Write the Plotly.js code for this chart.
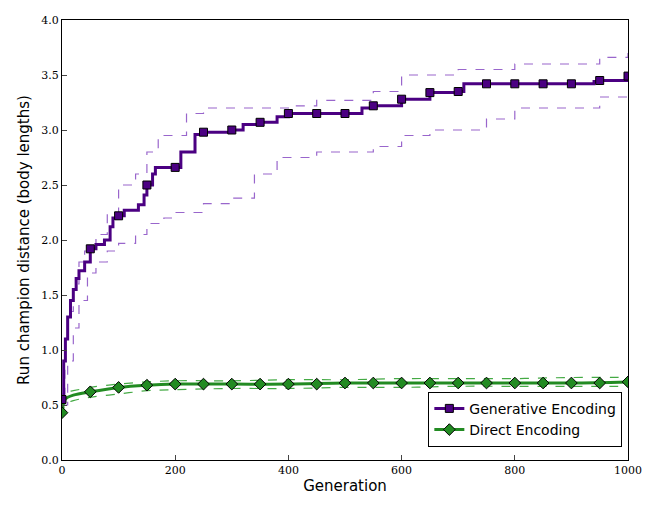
<!DOCTYPE html>
<html>
<head>
<script src="https://cdn.plot.ly/plotly-3.0.1.min.js"></script>
<style>body{margin:0}</style>
</head>
<body>
<div id="chart" style="width:657px;height:519px"></div>
<script>
// generative encoding (mean, stepped)
var genX = [0, 3, 6, 10, 15, 20, 25, 30, 40, 50, 60, 75, 85, 90, 100, 110, 125, 135, 145, 150, 160, 165, 175, 200, 210, 225, 235, 250, 300, 320, 340, 350, 370, 380, 400, 500, 530, 550, 580, 600, 640, 650, 700, 710, 750, 900, 940, 950, 990, 1000];
var genY = [0.55, 0.9, 1.1, 1.3, 1.45, 1.55, 1.65, 1.72, 1.8, 1.92, 1.96, 2.0, 2.12, 2.2, 2.22, 2.27, 2.27, 2.32, 2.41, 2.5, 2.6, 2.66, 2.66, 2.66, 2.8, 2.8, 2.96, 2.98, 3.0, 3.05, 3.05, 3.07, 3.07, 3.12, 3.15, 3.15, 3.2, 3.22, 3.22, 3.28, 3.28, 3.34, 3.35, 3.42, 3.42, 3.42, 3.44, 3.45, 3.45, 3.49];
var genUpX = [0, 5, 10, 20, 30, 40, 60, 80, 100, 130, 150, 170, 200, 220, 250, 400, 450, 550, 600, 700, 800, 950, 1000];
var genUpY = [0.6, 1.1, 1.35, 1.6, 1.8, 1.9, 2.05, 2.25, 2.5, 2.6, 2.8, 2.95, 2.95, 3.15, 3.2, 3.22, 3.27, 3.35, 3.5, 3.55, 3.6, 3.66, 3.7];
var genLoX = [0, 10, 20, 30, 45, 60, 80, 100, 130, 150, 180, 200, 250, 300, 340, 380, 450, 550, 600, 650, 750, 800, 950, 1000];
var genLoY = [0.5, 0.9, 1.2, 1.45, 1.7, 1.8, 1.9, 1.97, 2.05, 2.15, 2.2, 2.25, 2.33, 2.38, 2.6, 2.75, 2.8, 2.85, 2.95, 3.0, 3.1, 3.2, 3.3, 3.3];
// direct encoding
var dirX = [0, 5, 10, 20, 50, 100, 150, 200, 300, 400, 500, 600, 700, 800, 900, 1000];
var dirY = [0.43, 0.55, 0.57, 0.59, 0.62, 0.66, 0.68, 0.69, 0.69, 0.69, 0.70, 0.70, 0.70, 0.70, 0.70, 0.71];
var dirUpY = [0.5, 0.6, 0.62, 0.63, 0.66, 0.69, 0.71, 0.72, 0.72, 0.73, 0.73, 0.74, 0.74, 0.74, 0.75, 0.75];
var dirLoY = [0.4, 0.5, 0.52, 0.54, 0.57, 0.6, 0.63, 0.64, 0.65, 0.65, 0.66, 0.66, 0.67, 0.67, 0.67, 0.67];
var markX = [0, 50, 100, 150, 200, 250, 300, 350, 400, 450, 500, 550, 600, 650, 700, 750, 800, 850, 900, 950, 1000];

function stepAt(xs, ys, x){
    var v = ys[0];
    for (var i = 0; i < xs.length; i++){ if (xs[i] <= x) v = ys[i]; }
    return v;
}

var purple = '#4b0082', green = '#228b22';
var sq = {symbol: 'square', size: 8, color: purple, line: {color: '#000', width: 1}};
var dia = {symbol: 'diamond', size: 9, color: green, line: {color: '#000', width: 1}};
var data = [
    {x: genUpX, y: genUpY, mode: 'lines', line: {shape: 'hv', color: '#9966cc', width: 1.2, dash: 'dash'}, showlegend: false},
    {x: genLoX, y: genLoY, mode: 'lines', line: {shape: 'hv', color: '#9966cc', width: 1.2, dash: 'dash'}, showlegend: false},
    {x: dirX, y: dirUpY, mode: 'lines', line: {shape: 'spline', color: '#44aa44', width: 1.2, dash: 'dash'}, showlegend: false},
    {x: dirX, y: dirLoY, mode: 'lines', line: {shape: 'spline', color: '#44aa44', width: 1.2, dash: 'dash'}, showlegend: false},
    {x: genX, y: genY, mode: 'lines', line: {shape: 'hv', color: purple, width: 3}, showlegend: false},
    {x: dirX, y: dirY, mode: 'lines', line: {shape: 'spline', color: green, width: 3}, showlegend: false},
    {x: markX, y: markX.map(function(g){return stepAt(genX, genY, g);}), mode: 'markers', marker: sq, showlegend: false},
    {x: markX, y: markX.map(function(g){return stepAt(dirX, dirY, g);}), mode: 'markers', marker: dia, showlegend: false},
    // legend entries
    {name: 'Generative Encoding', x: [null], y: [null], mode: 'lines+markers', line: {color: purple, width: 3}, marker: sq},
    {name: 'Direct Encoding', x: [null], y: [null], mode: 'lines+markers', line: {color: green, width: 3}, marker: dia}
];

var layout = {
    width: 657, height: 519,
    margin: {l: 62, r: 29, t: 20, b: 59},
    paper_bgcolor: '#fff', plot_bgcolor: '#fff',
    font: {family: 'DejaVu Sans', size: 14, color: '#000'},
    xaxis: {range: [0, 1000], dtick: 200, showgrid: false, zeroline: false, showline: true, mirror: true,
            linecolor: '#000', ticks: 'inside', ticklen: 5, tickformat: 'd',
            tickfont: {family: 'DejaVu Serif', size: 11},
            title: {text: 'Generation', font: {size: 15}, standoff: 4}},
    yaxis: {range: [0, 4], dtick: 0.5, showgrid: false, zeroline: false, showline: true, mirror: true,
            linecolor: '#000', ticks: 'inside', ticklen: 5, tickformat: '.1f',
            tickfont: {family: 'DejaVu Serif', size: 11},
            title: {text: 'Run champion distance (body lengths)', font: {size: 15}, standoff: 8}},
    legend: {x: 0.99, y: 0.03, xanchor: 'right', yanchor: 'bottom', bordercolor: '#000', borderwidth: 1,
             bgcolor: '#fff', font: {size: 14}}
};
Plotly.newPlot('chart', data, layout, {displayModeBar: false});
</script>
</body>
</html>
